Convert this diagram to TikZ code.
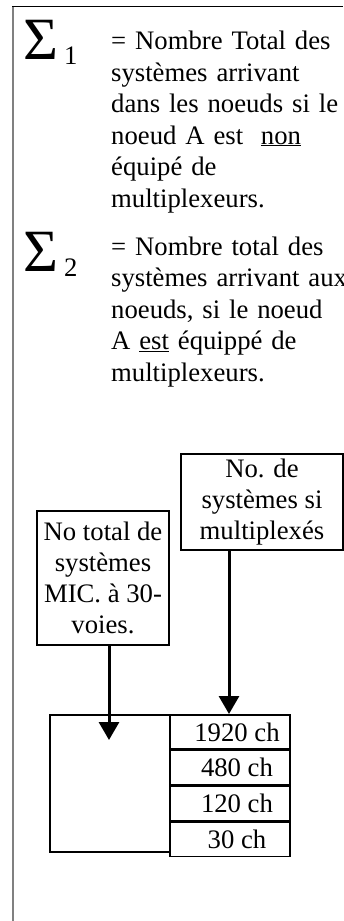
\documentclass[tikz,border=0pt]{standalone}
\usepackage{fontspec}
\setmainfont{Liberation Serif}
\usepackage{tikz}
\usetikzlibrary{arrows.meta,positioning}
\tikzstyle{legende} = [anchor=base west, inner sep=0pt, text width=240pt, align=left, font=\fontsize{26.7}{31.5}\selectfont]
\tikzstyle{somme} = [anchor=base west, inner sep=0pt, font=\fontsize{60}{60}\selectfont]
\tikzstyle{indice} = [anchor=base west, inner sep=0pt, font=\fontsize{26.7}{30}\selectfont]
\tikzstyle{boite} = [draw, line width=1.5pt, inner sep=2pt, align=center, font=\fontsize{26.7}{31}\selectfont]
\tikzstyle{canal} = [draw, line width=1.5pt, minimum width=120pt, minimum height=34.25pt, inner sep=0pt, font=\fontsize{26.7}{30}\selectfont]
\tikzstyle{fleche} = [line width=3pt, -{Triangle[length=18pt,width=20pt]}]

\begin{document}
\begin{tikzpicture}[x=1pt,y=-1pt]
\useasboundingbox (0,0) rectangle (343,921);
\draw[gray, line width=2pt] (13,921) -- (13,6);
\draw[line width=1pt] (12,6) -- (343,6);
% les deux sommes
\node[somme] (S1) at (23,59) {Σ};
\node[indice] (i1) at (64,64) {1};
\node[legende] (def1) at (111,49.5) {= Nombre Total des\\systèmes arrivant\\dans les noeuds si le\\noeud A est\ \ \underline{non}\\équipé de\\multiplexeurs.};
\node[somme] (S2) at (23,271) {Σ};
\node[indice] (i2) at (64,276) {2};
\node[legende] (def2) at (111,255) {= Nombre total des\\systèmes arrivant aux\\noeuds, si le noeud\\A \underline{est} équippé de\\multiplexeurs.};
% boites
\node[boite, minimum width=132pt, minimum height=134pt] (tot) at (103,578) {No total de\\systèmes\\MIC. à 30-\\voies.};
\node[boite, minimum width=162pt, minimum height=96pt] (mux) at (262,502) {No. de\\systèmes si\\multiplexés};
% tableau
\node[canal, minimum height=137pt] (mic) at (110,783.5) {};
\node[canal] (c1) at (230,732.1) {\hspace*{14pt}1920 ch};
\foreach \v/\i/\j in {480/2/1,120/3/2,30/4/3}
  \node[canal, below=0pt of c\j] (c\i) {\hspace*{14pt}\v{} ch};
\coordinate (pA) at (109,740);
\coordinate (pB) at (229,714);
\draw[fleche] (tot.south -| pA) -- (pA);
\draw[fleche] (mux.south -| pB) -- (pB);
\end{tikzpicture}
\end{document}
